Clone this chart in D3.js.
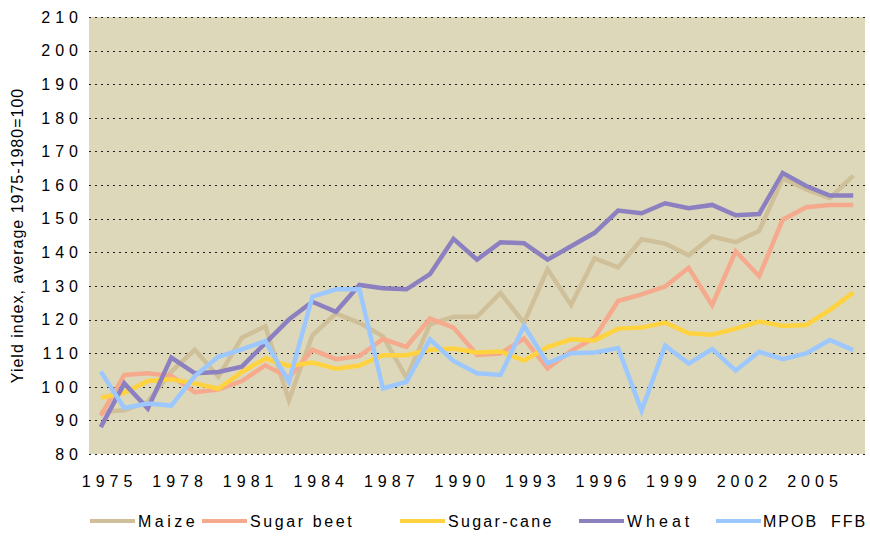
<!DOCTYPE html>
<meta charset='utf-8'>
<style>
  body { margin: 0; background: #fff; }
  text { font-family: 'Liberation Sans', Arial, sans-serif; fill: #000; }
</style>
<div id='chart'></div>
<script src='https://d3js.org/d3.v7.min.js'></script>
<script>

  // years 1975-2007
  var years = [1975,1976,1977,1978,1979,1980,1981,1982,1983,1984,1985,1986,1987,1988,1989,1990,
               1991,1992,1993,1994,1995,1996,1997,1998,1999,2000,2001,2002,2003,2004,2005,2006,2007];
  var yearTicks = [1975,1978,1981,1984,1987,1990,1993,1996,1999,2002,2005];
  var yTicks = [80,90,100,110,120,130,140,150,160,170,180,190,200,210];

  var maize     = [92.5,93,95.5,104.5,111,103,114.6,118,96,115.3,121.8,119,115,102.7,118.6,120.8,
                   120.8,127.9,119,135,124.3,138.2,135.5,143.9,142.6,139.1,144.7,143,146.4,162,158.7,156.1,162.8];
  var sugarBeet = [91.4,103.5,104,103.2,98.4,99.2,101.7,106.4,102.7,111,108.2,109.1,114.2,111.9,120.3,117.6,
                   109.5,109.9,114.3,105.5,110.7,114.6,125.5,127.5,129.8,135.4,124.3,140.3,132.9,149.7,153.4,154.1,154.1];
  var sugarCane = [96.7,98.2,101.7,102.2,101,99.4,104.4,108.4,106.2,107.2,105.4,106.3,109.4,109.4,111,111.4,
                   110.2,110.5,107.8,111.8,114.1,113.8,117.3,117.6,119.1,115.9,115.5,117.3,119.4,118.1,118.4,122.8,128];
  var wheat     = [88,101,93.5,108.7,104,104.4,106,113,120,125.3,122.3,130.3,129.3,129,133.5,144,
                   137.8,143,142.7,137.8,141.8,145.8,152.4,151.6,154.6,153.1,154.1,151,151.4,163.6,159.7,156.9,156.9];
  var mpob      = [104.5,93.7,95,94.4,103.2,108.9,111.1,113.6,101.4,126.8,129,129,99.5,101.5,114.1,107.7,
                   104,103.5,118.1,107,110,110.2,111.5,92.9,112.2,106.9,111.2,104.8,110.4,108.2,109.9,113.9,110.9];

  var seriesNames = ['Maize', 'Sugar beet', 'Sugar-cane', 'Wheat', 'MPOB  FFB'];
  var seriesValues = [maize, sugarBeet, sugarCane, wheat, mpob];
  var seriesColors = ['#cfc09a', '#f5aa8e', '#ffd23f', '#8c80c0', '#9cc8ff'];

  var width = 870, height = 540;
  var plot = {left: 89, right: 865, top: 17, bottom: 454};

  var svg = d3.select('#chart')
    .append('svg')
      .attr('width', width)
      .attr('height', height);

  var x = d3.scalePoint()
    .domain(years)
    .range([plot.left, plot.right])
    .padding(0.5);

  var y = d3.scaleLinear()
    .domain([80, 210])
    .range([plot.bottom, plot.top]);

  // plot background
  svg.append('rect')
    .attr('x', plot.left)
    .attr('y', plot.top)
    .attr('width', plot.right - plot.left)
    .attr('height', plot.bottom - plot.top)
    .style('fill', '#ddd8b9');

  // dotted gridlines
  svg.append('g')
    .selectAll('line')
    .data(yTicks)
    .enter()
    .append('line')
      .attr('x1', plot.left)
      .attr('x2', plot.right)
      .attr('y1', function (d) { return Math.round(y(d)) + 0.5; })
      .attr('y2', function (d) { return Math.round(y(d)) + 0.5; })
      .style('stroke', '#222')
      .style('stroke-width', 1)
      .style('stroke-dasharray', '2,4');

  // y tick labels
  svg.append('g')
    .selectAll('text')
    .data(yTicks)
    .enter()
    .append('text')
      .attr('x', 83)
      .attr('y', function (d) { return y(d); })
      .attr('dy', '0.36em')
      .attr('text-anchor', 'end')
      .style('font-size', '16px')
      .style('letter-spacing', '5px')
      .text(function (d) { return d; });

  // x tick labels
  svg.append('g')
    .selectAll('text')
    .data(yearTicks)
    .enter()
    .append('text')
      .attr('x', function (d) { return x(d) - 19; })
      .attr('y', 487)
      .style('font-size', '16px')
      .style('letter-spacing', '5px')
      .text(function (d) { return d; });

  // y axis title
  svg.append('text')
    .attr('transform', 'translate(23,' + ((plot.top + plot.bottom) / 2 - 0) + ') rotate(-90)')
    .attr('text-anchor', 'middle')
    .style('font-size', '16px')
    .style('letter-spacing', '1px')
    .text('Yield index, average 1975-1980=100');

  // lines
  var line = d3.line()
    .x(function (d, i) { return x(years[i]); })
    .y(function (d) { return y(d); });

  svg.append('g')
    .selectAll('path')
    .data(seriesValues)
    .enter()
    .append('path')
      .attr('d', line)
      .style('fill', 'none')
      .style('stroke', function (d, i) { return seriesColors[i]; })
      .style('stroke-width', 4.5)
      .style('stroke-linejoin', 'miter');

  // legend
  var legendX = [90, 202, 400, 579, 716];
  var legendSpacing = [3.5, 2.6, 2.3, 4, 2];
  var legend = svg.append('g')
    .selectAll('g')
    .data(seriesNames)
    .enter()
    .append('g')
      .attr('transform', function (d, i) { return 'translate(' + legendX[i] + ',521)'; });

  legend.append('line')
    .attr('x1', 0)
    .attr('x2', 45)
    .style('stroke', function (d, i) { return seriesColors[i]; })
    .style('stroke-width', 4);

  legend.append('text')
    .attr('x', function (d, i) { return i === 4 ? 47 : 48; })
    .attr('dy', '0.36em')
    .style('font-size', '16px')
    .style('letter-spacing', function (d, i) { return legendSpacing[i] + 'px'; })
    .style('white-space', 'pre')
    .text(function (d) { return d; });

</script>
